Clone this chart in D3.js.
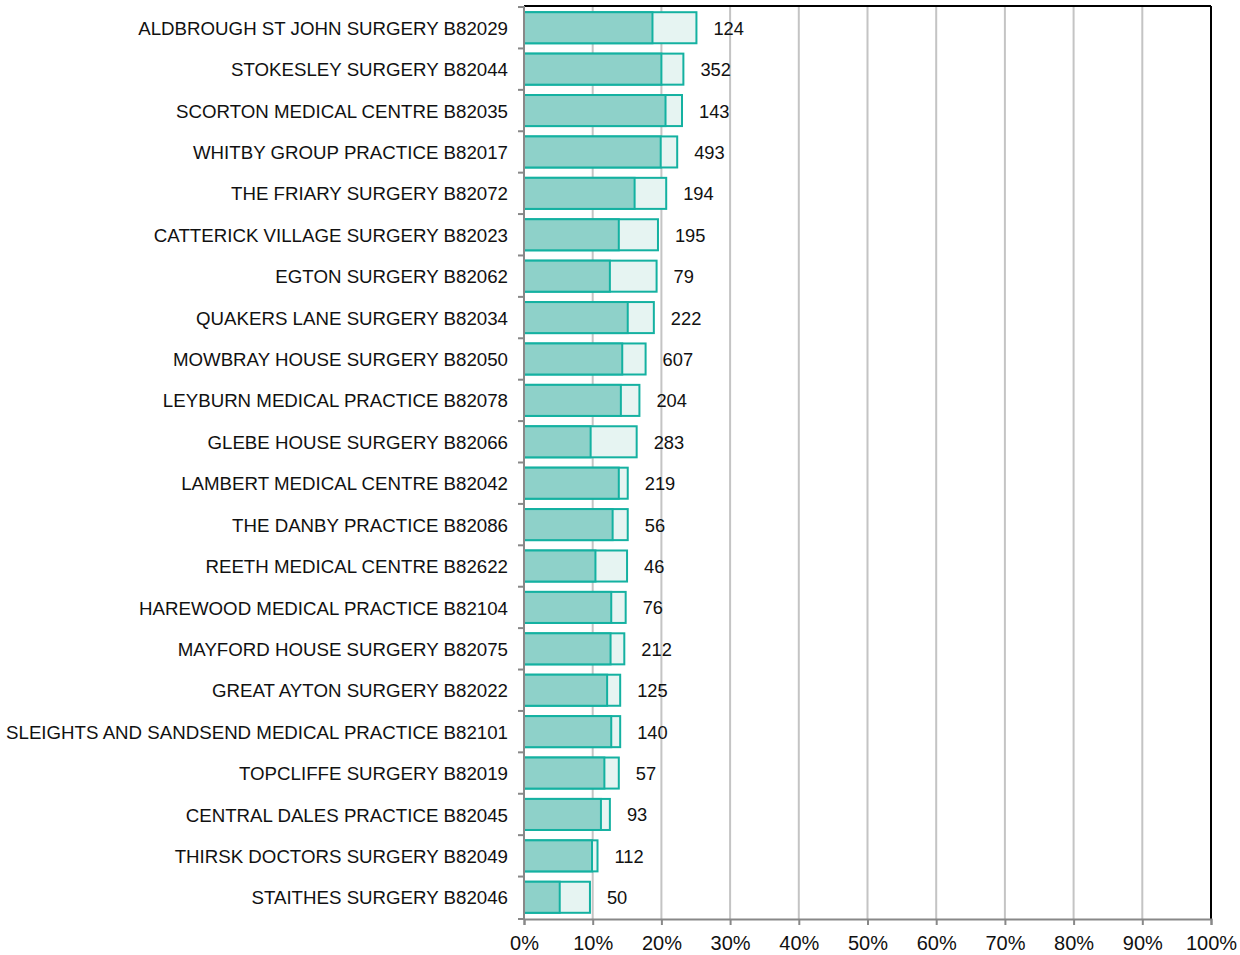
<!DOCTYPE html>
<html>
<head>
<meta charset="utf-8">
<script src="https://cdn.jsdelivr.net/npm/d3@7"></script>
<style>
  body { margin: 0; background: #fff; }
  text { font-family: "Liberation Sans", Arial, sans-serif; fill: #111; }
</style>
</head>
<body>
<div id="chart"></div>
<script>
// practices, top to bottom
const practices = [
  "ALDBROUGH ST JOHN SURGERY B82029",
  "STOKESLEY SURGERY B82044",
  "SCORTON MEDICAL CENTRE B82035",
  "WHITBY GROUP PRACTICE B82017",
  "THE FRIARY SURGERY B82072",
  "CATTERICK VILLAGE SURGERY B82023",
  "EGTON SURGERY B82062",
  "QUAKERS LANE SURGERY B82034",
  "MOWBRAY HOUSE SURGERY B82050",
  "LEYBURN MEDICAL PRACTICE B82078",
  "GLEBE HOUSE SURGERY B82066",
  "LAMBERT MEDICAL CENTRE B82042",
  "THE DANBY PRACTICE B82086",
  "REETH MEDICAL CENTRE B82622",
  "HAREWOOD MEDICAL PRACTICE B82104",
  "MAYFORD HOUSE SURGERY B82075",
  "GREAT AYTON SURGERY B82022",
  "SLEIGHTS AND SANDSEND MEDICAL PRACTICE B82101",
  "TOPCLIFFE SURGERY B82019",
  "CENTRAL DALES PRACTICE B82045",
  "THIRSK DOCTORS SURGERY B82049",
  "STAITHES SURGERY B82046"
];

// solid part (%) and full bar end (%)
const solidPct = [18.7, 20.0, 20.6, 19.9, 16.1, 13.8, 12.5, 15.1, 14.3, 14.1, 9.7,
                  13.8, 12.9, 10.4, 12.7, 12.6, 12.1, 12.7, 11.7, 11.2, 9.9, 5.2];
const totalPct = [25.1, 23.2, 23.0, 22.3, 20.7, 19.5, 19.3, 18.9, 17.7, 16.8, 16.4,
                  15.1, 15.1, 15.0, 14.8, 14.6, 14.0, 14.0, 13.8, 12.5, 10.7, 9.6];
const counts = [124, 352, 143, 493, 194, 195, 79, 222, 607, 204, 283,
                219, 56, 46, 76, 212, 125, 140, 57, 93, 112, 50];

const xTicks = [0, 10, 20, 30, 40, 50, 60, 70, 80, 90, 100];

const W = 1240, H = 955;
const margin = {top: 6, right: 29, bottom: 36, left: 524};
const innerW = W - margin.left - margin.right;
const innerH = H - margin.top - margin.bottom;

const data = practices.map((p, i) => ({name: p, solid: solidPct[i], total: totalPct[i], n: counts[i]}));

const svg = d3.select("#chart").append("svg")
  .attr("width", W).attr("height", H);

const g = svg.append("g")
  .attr("transform", `translate(${margin.left},${margin.top})`);

const x = d3.scaleLinear().domain([0, 100]).range([0, innerW]);
const y = d3.scaleBand().domain(practices).range([0, innerH])
  .paddingInner(0.25).paddingOuter(0.15);

// grid lines
g.selectAll(".grid").data(xTicks.slice(1)).enter().append("line")
  .attr("x1", d => x(d)).attr("x2", d => x(d))
  .attr("y1", 0).attr("y2", innerH)
  .attr("stroke", "#c4c4c4").attr("stroke-width", 2);

// frame: top and right in black
g.append("line").attr("x1", 0).attr("x2", innerW).attr("y1", 0).attr("y2", 0)
  .attr("stroke", "#000").attr("stroke-width", 2);
g.append("line").attr("x1", innerW).attr("x2", innerW).attr("y1", 0).attr("y2", innerH)
  .attr("stroke", "#000").attr("stroke-width", 2);

// full bar (light)
g.selectAll(".total").data(data).enter().append("rect")
  .attr("x", x(0)).attr("y", d => y(d.name))
  .attr("width", d => x(d.total) - x(0)).attr("height", y.bandwidth())
  .attr("fill", "#e6f4f2").attr("stroke", "#14b1a1").attr("stroke-width", 2);

// solid part
g.selectAll(".solid").data(data).enter().append("rect")
  .attr("x", x(0)).attr("y", d => y(d.name))
  .attr("width", d => x(d.solid) - x(0)).attr("height", y.bandwidth())
  .attr("fill", "#8ed1c9").attr("stroke", "#14b1a1").attr("stroke-width", 2);

// counts
g.selectAll(".count").data(data).enter().append("text")
  .attr("x", d => x(d.total) + 17)
  .attr("y", d => y(d.name) + y.bandwidth() / 2)
  .attr("dy", "0.38em")
  .style("font-size", "18.3px")
  .text(d => d.n);

// category labels
g.selectAll(".cat").data(data).enter().append("text")
  .attr("x", -16)
  .attr("y", d => y(d.name) + y.bandwidth() / 2)
  .attr("dy", "0.38em")
  .attr("text-anchor", "end")
  .style("font-size", "18.7px")
  .text(d => d.name);

// left axis with ticks between categories
const gap = (y.step() - y.bandwidth()) / 2;
const bounds = practices.map(p => y(p) - gap).concat([innerH]);
g.append("line").attr("x1", 0).attr("x2", 0).attr("y1", 0).attr("y2", innerH)
  .attr("stroke", "#888").attr("stroke-width", 2);
g.selectAll(".ytick").data(bounds).enter().append("line")
  .attr("x1", -6).attr("x2", 0).attr("y1", d => d).attr("y2", d => d)
  .attr("stroke", "#888").attr("stroke-width", 2);

// bottom axis
const xAxis = d3.axisBottom(x).tickValues(xTicks).tickFormat(d => d + "%")
  .tickSize(6).tickPadding(11);
const ax = g.append("g").attr("transform", `translate(0,${innerH})`).call(xAxis);
ax.select(".domain").attr("stroke", "#888").attr("stroke-width", 2);
ax.selectAll(".tick line").attr("stroke", "#888").attr("stroke-width", 2);
ax.selectAll(".tick text").style("font-size", "20px").attr("fill", "#111")
  .style("font-family", "'Liberation Sans', Arial, sans-serif");
</script>
</body>
</html>
